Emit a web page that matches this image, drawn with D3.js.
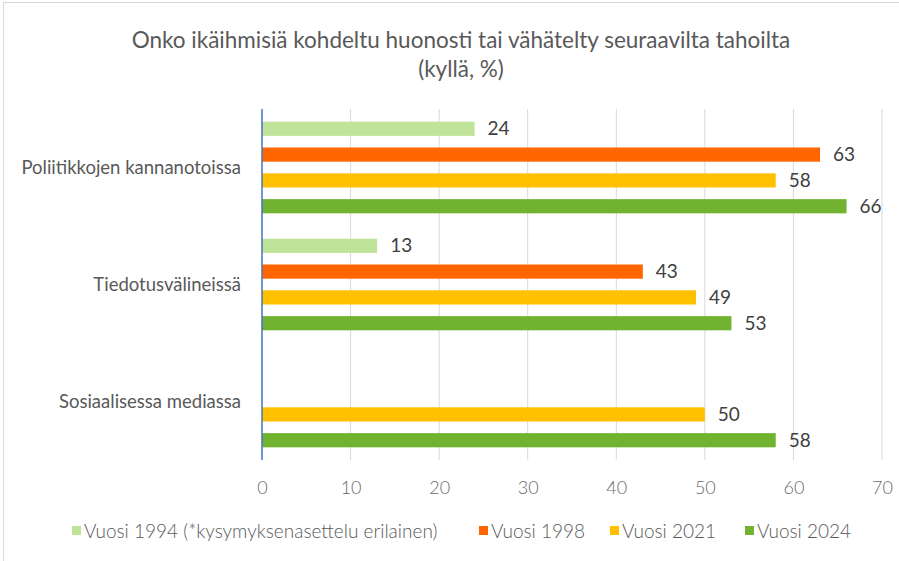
<!DOCTYPE html>
<html lang="fi">
<head>
<meta charset="UTF-8">
<title>Onko ikäihmisiä kohdeltu huonosti</title>
<style>
  body { margin: 0; background: #fff; }
  svg text { font-family: Lato, "Open Sans", sans-serif; }
</style>
</head>
<body>
<script src="https://cdn.jsdelivr.net/npm/d3@7"></script>
<script>
const categories = ['Poliitikkojen kannanotoissa', 'Tiedotusvälineissä', 'Sosiaalisessa mediassa'];
const seriesNames = ['Vuosi 1994 (*kysymyksenasettelu erilainen)', 'Vuosi 1998', 'Vuosi 2021', 'Vuosi 2024'];
const v1994 = [24, 13, null];
const v1998 = [63, 43, null];
const v2021 = [58, 49, 50];
const v2024 = [66, 53, 58];
const xTicks = [0, 10, 20, 30, 40, 50, 60, 70];
const colors = ['#C0E39A', '#FF6600', '#FFC000', '#72B231'];

const allSeries = [v1994, v1998, v2021, v2024];

const W = 899, H = 561;
const svg = d3.select('body').append('svg')
  .attr('width', W).attr('height', H);

// outer frame
svg.append('rect')
  .attr('x', 3.5).attr('y', 2.5).attr('width', W + 10).attr('height', H + 10)
  .attr('fill', '#fff').attr('stroke', '#d9d9d9');

const margin = { left: 262, right: 17, top: 109, bottom: 101 };

const x = d3.scaleLinear().domain([0, 70]).range([margin.left, W - margin.right]);
const y0 = d3.scaleBand().domain(categories).range([margin.top, H - margin.bottom]);
const y1 = d3.scaleBand().domain(d3.range(seriesNames.length))
  .range([7, y0.bandwidth() - 7]).paddingInner(0.45).paddingOuter(0.22);

// title
svg.append('text').attr('x', 461).attr('y', 48)
  .attr('text-anchor', 'middle').attr('font-size', 22.5).attr('fill', '#595959')
  .text('Onko ikäihmisiä kohdeltu huonosti tai vähätelty seuraavilta tahoilta');
svg.append('text').attr('x', 461).attr('y', 77)
  .attr('text-anchor', 'middle').attr('font-size', 22.5).attr('fill', '#595959')
  .text('(kyllä, %)');

// gridlines
svg.append('g').selectAll('line')
  .data(xTicks.slice(1))
  .enter().append('line')
  .attr('x1', d => x(d)).attr('x2', d => x(d))
  .attr('y1', margin.top).attr('y2', H - margin.bottom)
  .attr('stroke', '#d9d9d9').attr('stroke-width', 1);

// x axis labels
const xAxis = svg.append('g')
  .attr('transform', `translate(0,${H - margin.bottom})`)
  .call(d3.axisBottom(x).tickValues(xTicks).tickSize(0).tickPadding(21));
xAxis.select('.domain').remove();
xAxis.selectAll('text').attr('font-size', 18).attr('fill', '#6a6a6a')
  .style('font-family', 'Lato, sans-serif').attr('font-weight', 300);

// category labels
svg.append('g').selectAll('text')
  .data(categories)
  .enter().append('text')
  .attr('x', margin.left - 21)
  .attr('y', d => y0(d) + y0.bandwidth() / 2)
  .attr('dy', '0.35em')
  .attr('text-anchor', 'end')
  .attr('font-size', 18.5).attr('fill', '#595959')
  .text(d => d);

// bars
const rows = [];
categories.forEach((c, ci) => {
  allSeries.forEach((s, si) => {
    if (s[ci] != null) rows.push({ cat: c, si, value: s[ci] });
  });
});

svg.append('g').selectAll('rect')
  .data(rows)
  .enter().append('rect')
  .attr('x', x(0))
  .attr('y', d => y0(d.cat) + y1(d.si))
  .attr('width', d => x(d.value) - x(0))
  .attr('height', y1.bandwidth())
  .attr('fill', d => colors[d.si]);

svg.append('g').selectAll('text')
  .data(rows)
  .enter().append('text')
  .attr('x', d => x(d.value) + 13)
  .attr('y', d => y0(d.cat) + y1(d.si) + y1.bandwidth() / 2)
  .attr('dy', '0.35em')
  .attr('font-size', 19).attr('fill', '#404040')
  .text(d => d.value);

// vertical axis line
svg.append('line')
  .attr('x1', x(0)).attr('x2', x(0))
  .attr('y1', margin.top).attr('y2', H - margin.bottom)
  .attr('stroke', '#4472C4').attr('stroke-width', 1.5);

// legend
const legendX = [72, 479, 610, 745];
const legend = svg.append('g').selectAll('g')
  .data(seriesNames)
  .enter().append('g')
  .attr('transform', (d, i) => `translate(${legendX[i]},531)`);
legend.append('rect')
  .attr('x', 0).attr('y', -5).attr('width', 9).attr('height', 9)
  .attr('fill', (d, i) => colors[i]);
legend.append('text')
  .attr('x', 12).attr('y', 0).attr('dy', '0.35em')
  .attr('font-size', 19).attr('font-weight', 300).attr('fill', '#595959')
  .text(d => d);
</script>
</body>
</html>
